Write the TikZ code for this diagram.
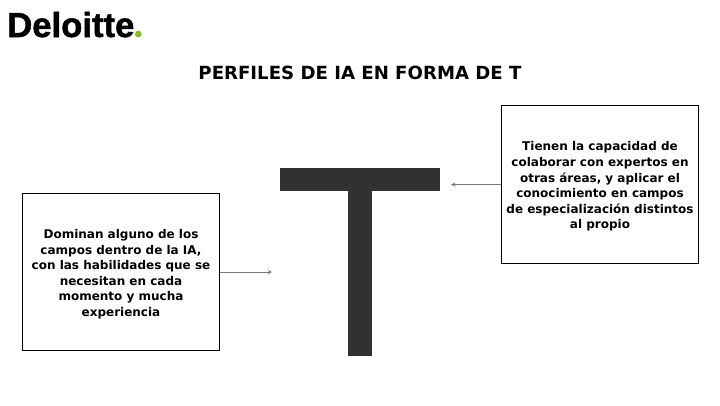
\documentclass[tikz,border=0pt]{standalone}
\usepackage{fontspec}
\setmainfont{DejaVu Sans}
\newfontfamily\logofont[FakeBold=1.5]{Liberation Sans Bold}
\usetikzlibrary{arrows,positioning}
\definecolor{barcolor}{HTML}{313131}
\definecolor{dotgreen}{HTML}{86BC25}
\definecolor{linecolor}{HTML}{7A7A7A}
\newcommand{\firstline}{\rule{0pt}{10pt}}
\begin{document}
\begin{tikzpicture}[x=0.75pt,y=-0.75pt]
\tikzstyle{textbox} = [rectangle, draw=black, line width=0.7pt, inner sep=0pt, minimum width=148pt, minimum height=118pt, align=center, font=\bfseries\fontsize{9}{11.7}\selectfont]
\tikzstyle{tbar} = [rectangle, fill=barcolor, inner sep=0pt]
\tikzstyle{arrow} = [draw=linecolor, line width=0.5pt,->,>=stealth]

\useasboundingbox (0,0) rectangle (720,405);

%nodes
\node (logo) [anchor=base west, inner sep=0pt, font=\logofont\fontsize{26}{27}\selectfont] at (7,37) {Deloitte};
\node (dot) [circle, fill=dotgreen, inner sep=0pt, minimum size=5pt] at (138.3,34) {};
\node (title) [font=\bfseries\fontsize{13.6}{15}\selectfont] at (360,73) {PERFILES DE IA EN FORMA DE T};
\node (top) [tbar, minimum width=119.3pt, minimum height=16.8pt] at (360,179.5) {};
\node (stem) [tbar, minimum width=18.7pt, minimum height=124pt, below=-0.5pt of top] {};
\node (left) [textbox] at (121,272) {\firstline Dominan alguno de los\\campos dentro de la IA,\\con las habilidades que se\\necesitan en cada\\momento y mucha\\experiencia};
\node (right) [textbox] at (600,184.5) {\firstline Tienen la capacidad de\\colaborar con expertos en\\otras áreas, y aplicar el\\conocimiento en campos\\de especialización distintos\\al propio};
\coordinate (lefttip) at (272,272);
\coordinate (righttip) at (451,184.5);

%arrows
\draw [arrow] (left) -- (lefttip);
\draw [arrow] (right) -- (righttip);
\end{tikzpicture}
\end{document}
